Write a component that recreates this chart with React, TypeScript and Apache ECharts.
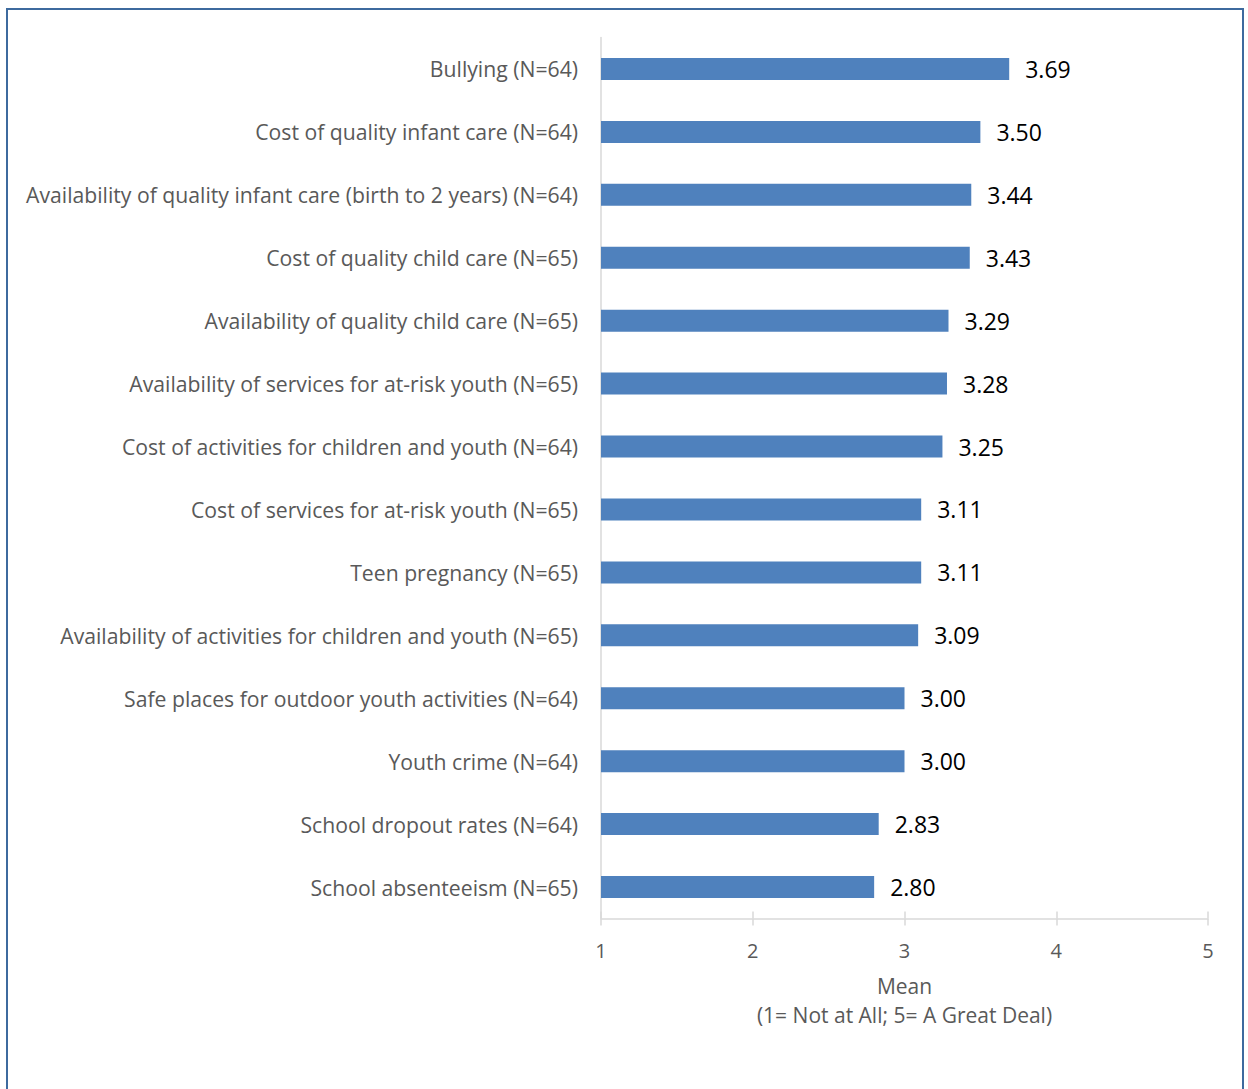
import React, { useEffect, useRef } from "react";
import * as echarts from "echarts";

const categories = [
  "Bullying (N=64)",
  "Cost of quality infant care (N=64)",
  "Availability of quality infant care (birth to 2 years) (N=64)",
  "Cost of quality child care (N=65)",
  "Availability of quality child care (N=65)",
  "Availability of services for at-risk youth (N=65)",
  "Cost of activities for children and youth (N=64)",
  "Cost of services for at-risk youth (N=65)",
  "Teen pregnancy (N=65)",
  "Availability of activities for children and youth (N=65)",
  "Safe places for outdoor youth activities (N=64)",
  "Youth crime (N=64)",
  "School dropout rates (N=64)",
  "School absenteeism (N=65)",
];
const means = [3.69, 3.5, 3.44, 3.43, 3.29, 3.28, 3.25, 3.11, 3.11, 3.09, 3.0, 3.0, 2.83, 2.8];
const xTicks = [1, 2, 3, 4, 5];
const axisTitle = "Mean\n(1= Not at All; 5= A Great Deal)";

const FONT = "'Open Sans', sans-serif";

export default function App() {
  const ref = useRef<HTMLDivElement>(null);
  useEffect(() => {
    document.body.style.margin = "0";
    const chart = echarts.init(ref.current!, null, { renderer: "svg" });
    const xMin = xTicks[0];
    const xMax = xTicks[xTicks.length - 1];
    chart.setOption({
      animation: false,
      backgroundColor: "#ffffff",
      textStyle: { fontFamily: FONT },
      grid: { left: 601, right: 40, top: 37.5, bottom: 170.5, containLabel: false },
      xAxis: [
        {
          type: "value",
          min: xMin,
          max: xMax,
          interval: 1,
          position: "bottom",
          axisLine: { show: true, lineStyle: { color: "#d9d9d9", width: 1.5 } },
          axisTick: { show: true, length: 7, lineStyle: { color: "#d9d9d9", width: 1.5 } },
          splitLine: { show: false },
          axisLabel: { color: "#595959", fontSize: 20, margin: 22, fontFamily: FONT },
          name: axisTitle,
          nameLocation: "middle",
          nameGap: 53,
          nameTextStyle: { color: "#595959", fontSize: 21, lineHeight: 29, fontFamily: FONT },
        },
        {
          type: "value",
          min: xMin,
          max: xMax,
          interval: 1,
          position: "bottom",
          axisLine: { show: false },
          axisTick: { show: true, inside: true, length: 7, lineStyle: { color: "#d9d9d9", width: 1.5 } },
          axisLabel: { show: false },
          splitLine: { show: false },
        },
      ],
      yAxis: {
        type: "category",
        data: categories,
        inverse: true,
        axisLine: { show: true, lineStyle: { color: "#d9d9d9", width: 1.5 } },
        axisTick: { show: false },
        axisLabel: { color: "#595959", fontSize: 21.2, margin: 23, fontFamily: FONT },
      },
      series: [
        {
          type: "bar",
          data: means,
          xAxisIndex: 0,
          barWidth: 22,
          itemStyle: { color: "#4f81bd" },
          label: {
            show: true,
            position: "right",
            distance: 16,
            color: "#000000",
            fontSize: 23,
            fontFamily: FONT,
            formatter: (p: any) => Number(p.value).toFixed(2),
          },
        },
      ],
    });
    return () => chart.dispose();
  }, []);
  return (
    <div style={{ position: "relative", width: 1248, height: 1089, overflow: "hidden", background: "#fff" }}>
      <div ref={ref} style={{ position: "absolute", left: 0, top: 0, width: 1248, height: 1089 }} />
      <div
        style={{
          position: "absolute",
          left: 6,
          top: 8,
          width: 1234,
          height: 1100,
          borderLeft: "2px solid #3d6a9e",
          borderTop: "2px solid #3d6a9e",
          borderRight: "2px solid #3d6a9e",
          pointerEvents: "none",
        }}
      />
    </div>
  );
}
